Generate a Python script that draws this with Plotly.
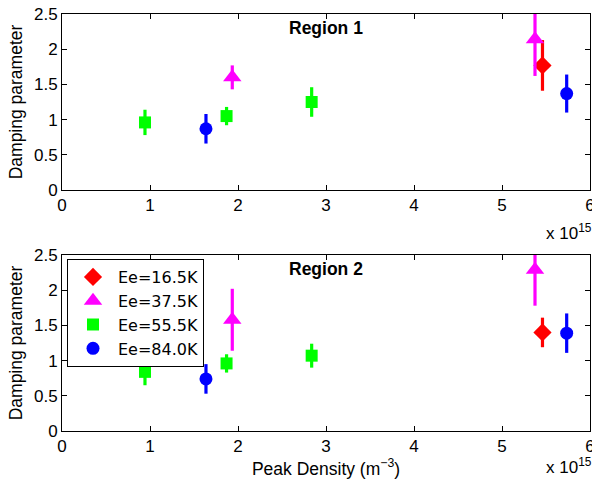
import plotly.graph_objects as go

# ---- data (x in units of 1e15 m^-3) ----
series_names = ["Ee=16.5K", "Ee=37.5K", "Ee=55.5K", "Ee=84.0K"]
series_colors = ["#ff0000", "#ff00ff", "#00ff00", "#0000ff"]
series_symbols = ["diamond", "triangle-up", "square", "circle"]
series_sizes = [14, 16, 12, 13]

x_165 = [5.46]
x_375 = [1.935, 5.375]
x_555 = [0.943, 1.87, 2.837]
x_840 = [1.636, 5.735]

# Region 1
r1_y_165 = [1.77]
r1_e_165 = [0.36]
r1_y_375 = [1.60, 2.14]
r1_e_375 = [0.17, 0.52]
r1_y_555 = [0.96, 1.05, 1.25]
r1_e_555 = [0.18, 0.13, 0.21]
r1_y_840 = [0.87, 1.37]
r1_e_840 = [0.21, 0.27]

# Region 2
r2_y_165 = [1.40]
r2_e_165 = [0.21]
r2_y_375 = [1.58, 2.29]
r2_e_375 = [0.44, 0.51]
r2_y_555 = [0.84, 0.96, 1.07]
r2_e_555 = [0.19, 0.13, 0.17]
r2_y_840 = [0.74, 1.39]
r2_e_840 = [0.21, 0.28]

x_ticks = [0, 1, 2, 3, 4, 5, 6]
x_ticktext = ["0", "1", "2", "3", "4", "5", "6"]
y_ticks = [0, 0.5, 1, 1.5, 2, 2.5]
y_ticktext = ["0", "0.5", "1", "1.5", "2", "2.5"]

xs = [x_165, x_375, x_555, x_840]
region1 = [(r1_y_165, r1_e_165), (r1_y_375, r1_e_375), (r1_y_555, r1_e_555), (r1_y_840, r1_e_840)]
region2 = [(r2_y_165, r2_e_165), (r2_y_375, r2_e_375), (r2_y_555, r2_e_555), (r2_y_840, r2_e_840)]

FONT = "Liberation Sans, Arial, Helvetica, sans-serif"
LEGFONT = "DejaVu Sans, Liberation Sans, sans-serif"
W, H = 592, 484

fig = go.Figure()

for region, (xa, ya), show in [(region1, ("x", "y"), False), (region2, ("x2", "y2"), True)]:
    for i, (yv, ev) in enumerate(region):
        fig.add_trace(go.Scatter(
            x=xs[i], y=yv, xaxis=xa, yaxis=ya,
            mode="markers", name=series_names[i], showlegend=show,
            marker=dict(symbol=series_symbols[i], color=series_colors[i],
                        size=series_sizes[i], line=dict(width=0)),
            error_y=dict(type="data", array=ev, visible=True, color=series_colors[i],
                         thickness=3.2, width=0),
            cliponaxis=True,
        ))

def px_x(p):
    return p / W

def px_y(p):
    return 1 - p / H

axis_common = dict(
    showline=True, linecolor="black", linewidth=1, mirror="allticks",
    ticks="inside", ticklen=5, tickcolor="black", showgrid=False, zeroline=False,
    automargin=False, ticklabeloverflow="allow",
    tickfont=dict(family=FONT, size=17, color="black"),
)

fig.update_layout(
    width=W, height=H,
    margin=dict(l=0, r=0, t=0, b=0, autoexpand=False),
    paper_bgcolor="white", plot_bgcolor="white",
    font=dict(family=FONT, color="black"),
    xaxis=dict(domain=[px_x(62), px_x(590)], range=[0, 6], tickmode="array", tickvals=x_ticks,
               ticktext=x_ticktext, anchor="y", **axis_common),
    yaxis=dict(domain=[px_y(190), px_y(14)], range=[0, 2.5], tickvals=y_ticks, ticktext=y_ticktext,
               anchor="x", title=dict(text="Damping parameter", standoff=6,
                                      font=dict(family=FONT, size=17.5)), **axis_common),
    xaxis2=dict(domain=[px_x(62), px_x(590)], range=[0, 6], tickmode="array", tickvals=x_ticks,
                ticktext=x_ticktext, anchor="y2",
                title=dict(text="Peak Density (m<sup>−3</sup>)", standoff=4,
                           font=dict(family=FONT, size=17.5)), **axis_common),
    yaxis2=dict(domain=[px_y(431), px_y(255)], range=[0, 2.5], tickvals=y_ticks, ticktext=y_ticktext,
                anchor="x2", title=dict(text="Damping parameter", standoff=6,
                                        font=dict(family=FONT, size=17.5)), **axis_common),
    legend=dict(x=px_x(67), y=px_y(259), xanchor="left", yanchor="top",
                bordercolor="black", borderwidth=1, bgcolor="white",
                font=dict(family=LEGFONT, size=16, color="black"),
                itemwidth=40, tracegroupgap=0),
    annotations=[
        dict(text="<b>Region 1</b>", x=3, y=2.5, xref="x", yref="y", yanchor="top", yshift=-2,
             showarrow=False, font=dict(family=FONT, size=17.5, color="black")),
        dict(text="<b>Region 2</b>", x=3, y=2.5, xref="x2", yref="y2", yanchor="top", yshift=-2,
             showarrow=False, font=dict(family=FONT, size=17.5, color="black")),
        dict(text="x 10<sup>15</sup>", x=px_x(594), y=px_y(219), xref="paper", yref="paper",
             xanchor="right", yanchor="top", showarrow=False,
             font=dict(family=FONT, size=17, color="black")),
        dict(text="x 10<sup>15</sup>", x=px_x(594), y=px_y(453), xref="paper", yref="paper",
             xanchor="right", yanchor="top", showarrow=False,
             font=dict(family=FONT, size=17, color="black")),
    ],
)

fig.write_html("out.html", config={"displayModeBar": False},
               post_script="document.body.style.margin='0';")
